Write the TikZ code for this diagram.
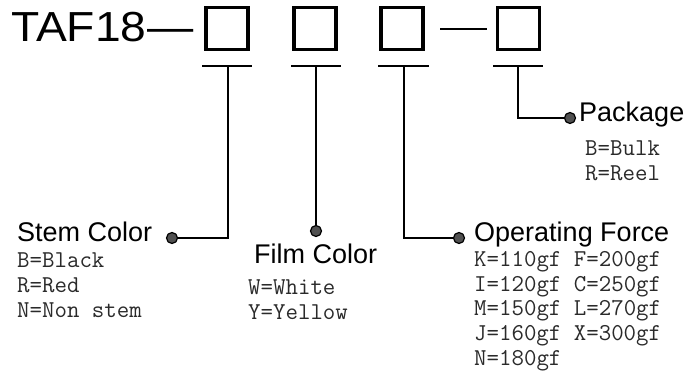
\documentclass[tikz,border=0pt]{standalone}
\usepackage{fontspec}
\setmainfont{Liberation Sans}
\definecolor{valgray}{HTML}{2A2A2A}
\definecolor{dotgray}{HTML}{505050}
\begin{document}
\begin{tikzpicture}[x=1pt,y=-1pt,
  codebox/.style={draw, line width=3.2pt, minimum width=42pt, minimum height=42pt, inner sep=0pt},
  uline/.style={line width=2.2pt},
  conn/.style={line width=1.6pt},
  label/.style={anchor=base west, inner sep=0pt, font=\fontsize{27}{32}\selectfont},
  vals/.style={anchor=north west, inner sep=0pt, align=left, text=valgray,
    font=\fontsize{24.2}{24.8}\selectfont\ttfamily},
  dotnode/.style={circle, draw=black, fill=dotgray, line width=1.2pt, minimum size=11pt, inner sep=0pt}]
\useasboundingbox (0,0) rectangle (696,387);

% title
\node[anchor=base west, inner sep=0pt, font=\fontsize{42}{48}\selectfont, xscale=1.1] (title) at (11,42) {TAF18};
\node[anchor=base west, inner sep=0pt, font=\fontsize{42}{48}\selectfont, xscale=1.1] (tdash) at (147,42) {—};

% boxes
\node[codebox] (b1) at (227,28.5) {};
\node[codebox] (b2) at (315,28.5) {};
\node[codebox] (b3) at (402,28.5) {};
\node[codebox] (b4) at (518.5,28.5) {};
\coordinate (d1) at (440,29);
\coordinate (d2) at (487,29);
\draw[uline] (d1) -- (d2);

% underlines
\coordinate (u1l) at (202,66); \coordinate (u1r) at (252,66);
\coordinate (u2l) at (291,66); \coordinate (u2r) at (341,66);
\coordinate (u3l) at (378,66); \coordinate (u3r) at (429,66);
\coordinate (u4l) at (493,66); \coordinate (u4r) at (543,66);
\draw[uline] (u1l) -- (u1r);
\draw[uline] (u2l) -- (u2r);
\draw[uline] (u3l) -- (u3r);
\draw[uline] (u4l) -- (u4r);

% dots
\node[dotnode] (p1) at (172,238) {};
\node[dotnode] (p2) at (316,231) {};
\node[dotnode] (p3) at (459,238) {};
\node[dotnode] (p4) at (570,118) {};

% connectors
\coordinate (c1) at (228,66); \coordinate (c2) at (316,66);
\coordinate (c3) at (404,66); \coordinate (c4) at (518,66);
\draw[conn] (c1) |- (p1);
\draw[conn] (c2) -- (p2);
\draw[conn] (c3) |- (p3);
\draw[conn] (c4) |- (p4);

% labels
\node[label] (stem) at (17,242) {Stem Color};
\node[label] (film) at (254,264) {Film Color};
\node[label] (force) at (474,242) {Operating Force};
\node[label] (pack) at (579,122) {Package};

% values
\node[vals] (stemv) at (17,253) {B=Black\\R=Red\\N=Non stem};
\node[vals] (filmv) at (248,280) {W=White\\Y=Yellow};
\node[vals] (forcev) at (474,251) {K=110gf F=200gf\\I=120gf C=250gf\\M=150gf L=270gf\\J=160gf X=300gf\\N=180gf};
\node[vals] (packv) at (585,141) {B=Bulk\\R=Reel};
\end{tikzpicture}
\end{document}
